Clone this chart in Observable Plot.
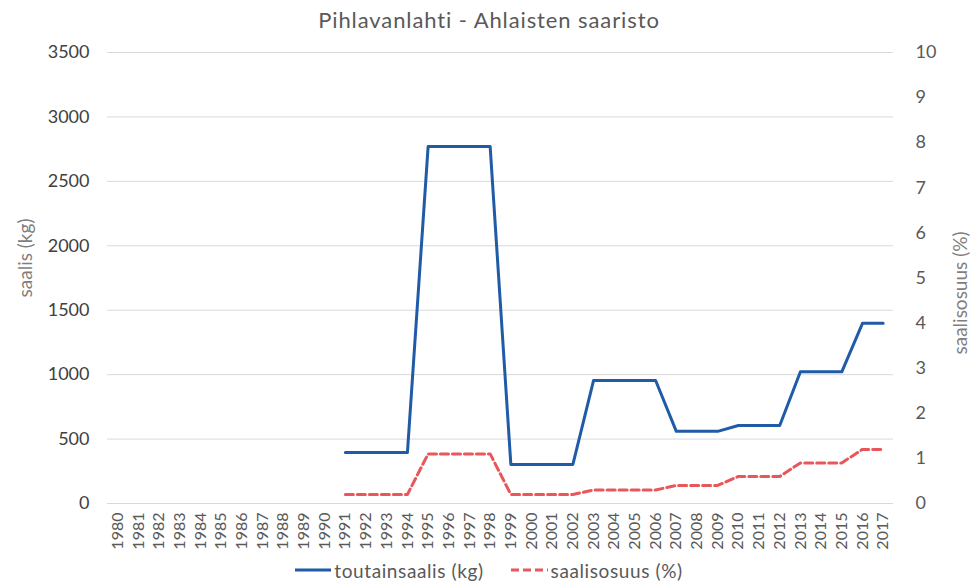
<!DOCTYPE html>
<html><head><meta charset="utf-8">
<script src="https://cdn.jsdelivr.net/npm/d3@7"></script>
<script src="https://cdn.jsdelivr.net/npm/@observablehq/plot@0.6"></script>
<style>
body{margin:0;background:#fff;font-family:Lato,"Noto Sans",sans-serif;color:#595959;width:978px;height:584px;overflow:hidden}
#title{height:36px;line-height:40px;text-align:center;font-size:22px;letter-spacing:0.9px;color:#595959}
#chart{height:520px}
#legend{height:28px;display:flex;justify-content:center;align-items:center;font-size:19px;letter-spacing:0.6px;color:#595959;gap:26px;padding-left:0px}
.item{display:flex;align-items:center}
.item svg{margin-right:3px}
</style></head><body>
<div id="title">Pihlavanlahti - Ahlaisten saaristo</div>
<div id="chart"></div>
<div id="legend">
  <div class="item"><svg width="36" height="10"><line x1="0" x2="36" y1="5" y2="5" stroke="#1F5BA6" stroke-width="3"/></svg>toutainsaalis (kg)</div>
  <div class="item"><svg width="38" height="10"><line x1="1" x2="38" y1="5" y2="5" stroke="#E8575A" stroke-width="3" stroke-dasharray="8,4"/></svg>saalisosuus (%)</div>
</div>
<script>
const years = [1980,1981,1982,1983,1984,1985,1986,1987,1988,1989,1990,1991,1992,1993,1994,1995,1996,1997,1998,1999,2000,2001,2002,2003,2004,2005,2006,2007,2008,2009,2010,2011,2012,2013,2014,2015,2016,2017];
const dataYears = [1991,1992,1993,1994,1995,1996,1997,1998,1999,2000,2001,2002,2003,2004,2005,2006,2007,2008,2009,2010,2011,2012,2013,2014,2015,2016,2017];
const catchKg = [395,395,395,395,2770,2770,2770,2770,303,303,303,303,955,955,955,955,560,560,560,605,605,605,1022,1022,1022,1398,1398];
const sharePct = [0.2,0.2,0.2,0.2,1.1,1.1,1.1,1.1,0.2,0.2,0.2,0.2,0.3,0.3,0.3,0.3,0.4,0.4,0.4,0.6,0.6,0.6,0.9,0.9,0.9,1.2,1.2];
const leftTicks = [0,500,1000,1500,2000,2500,3000,3500];
const rightTicks = [0,1,2,3,4,5,6,7,8,9,10];
const k = 350; // 10 % on the right axis = 3500 kg on the left axis

const rows = dataYears.map((y, i) => ({year: String(y), kg: catchKg[i], pct: sharePct[i]}));

const plot = Plot.plot({
  width: 978, height: 520,
  marginTop: 16, marginLeft: 107, marginRight: 85, marginBottom: 53,
  style: {fontFamily: "Lato, 'Noto Sans', sans-serif", color: "#595959", background: "#fff", overflow: "visible"},
  x: {type: "point", domain: years.map(String), padding: 0.5, round: false},
  y: {domain: [0, 3500]},
  marks: [
    Plot.gridY(leftTicks, {stroke: "#d9d9d9", strokeOpacity: 1, strokeWidth: 1}),
    Plot.axisX({tickRotate: -90, tickSize: 0, tickPadding: 9, fontSize: 16, label: null, fill: "#595959"}),
    Plot.axisY(leftTicks, {anchor: "left", tickSize: 0, tickPadding: 18, fontSize: 18, label: null, tickFormat: d => String(d), fill: "#404040"}),
    Plot.axisY(rightTicks.map(d => d * k), {anchor: "right", tickSize: 0, tickPadding: 22, fontSize: 18, label: null, tickFormat: d => String(Math.round(d / k)), fill: "#595959"}),
    Plot.text(["saalis (kg)"], {frameAnchor: "left", textAnchor: "middle", rotate: -90, dx: -82, dy: -20, fontSize: 19, fill: "#7f7f7f"}),
    Plot.text(["saalisosuus (%)"], {frameAnchor: "right", textAnchor: "middle", rotate: -90, dx: 67, dy: 15, fontSize: 19, fill: "#7f7f7f"}),
    Plot.line(rows, {x: "year", y: "kg", stroke: "#1F5BA6", strokeWidth: 3, strokeLinejoin: "round"}),
    Plot.line(rows, {x: "year", y: d => d.pct * k, stroke: "#E8575A", strokeWidth: 3, strokeDasharray: "8,4", strokeLinejoin: "round"})
  ]
});
document.getElementById("chart").appendChild(plot);
</script>
</body></html>
